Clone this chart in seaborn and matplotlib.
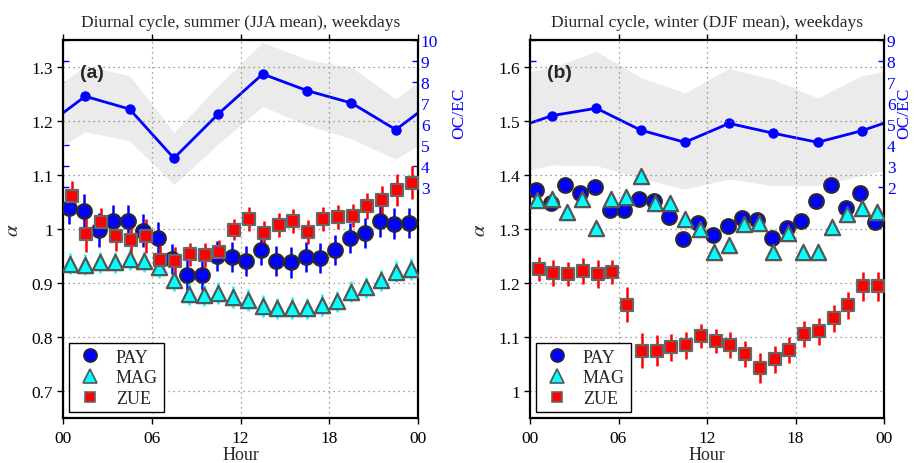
import numpy as np
import pandas as pd
import matplotlib
matplotlib.use("Agg")
import matplotlib.pyplot as plt
from matplotlib.lines import Line2D
import seaborn as sns

# ---- data -------------------------------------------------------------
hours = np.arange(24) + 0.5
stations = ["PAY", "MAG", "ZUE"]

# absorption exponent, summer weekdays
pay_sum = [1.038, 1.034, 0.998, 1.014, 1.014, 0.997, 0.983, 0.944, 0.915, 0.915, 0.950, 0.948,
           0.941, 0.961, 0.941, 0.938, 0.948, 0.946, 0.961, 0.983, 0.992, 1.014, 1.010, 1.011]
mag_sum = [0.936, 0.934, 0.938, 0.938, 0.945, 0.940, 0.929, 0.905, 0.880, 0.877, 0.882, 0.874,
           0.868, 0.857, 0.853, 0.854, 0.853, 0.859, 0.866, 0.884, 0.892, 0.905, 0.921, 0.926]
zue_sum = [1.062, 0.991, 1.013, 0.987, 0.980, 0.987, 0.943, 0.940, 0.953, 0.952, 0.958, 0.999,
           1.019, 0.992, 1.007, 1.015, 0.994, 1.018, 1.022, 1.025, 1.043, 1.053, 1.072, 1.086]
pay_sum_err = [0.028, 0.030, 0.032, 0.030, 0.030, 0.030, 0.030, 0.028, 0.028, 0.028, 0.028, 0.028,
               0.028, 0.028, 0.028, 0.028, 0.028, 0.028, 0.028, 0.028, 0.028, 0.028, 0.028, 0.028]
mag_sum_err = [0.020, 0.020, 0.020, 0.020, 0.020, 0.020, 0.020, 0.020, 0.020, 0.020, 0.020, 0.020,
               0.020, 0.020, 0.020, 0.020, 0.020, 0.020, 0.020, 0.020, 0.020, 0.020, 0.020, 0.020]
zue_sum_err = [0.026, 0.034, 0.025, 0.028, 0.028, 0.031, 0.026, 0.026, 0.022, 0.022, 0.022, 0.020,
               0.022, 0.022, 0.022, 0.022, 0.022, 0.022, 0.022, 0.022, 0.024, 0.026, 0.030, 0.030]

# absorption exponent, winter weekdays
pay_win = [1.373, 1.349, 1.381, 1.366, 1.378, 1.335, 1.335, 1.356, 1.351, 1.323, 1.281, 1.312,
           1.289, 1.305, 1.320, 1.317, 1.283, 1.302, 1.315, 1.351, 1.381, 1.338, 1.366, 1.313]
mag_win = [1.354, 1.355, 1.332, 1.356, 1.301, 1.355, 1.360, 1.398, 1.349, 1.349, 1.319, 1.300,
           1.257, 1.270, 1.309, 1.312, 1.257, 1.292, 1.257, 1.257, 1.303, 1.327, 1.338, 1.332]
zue_win = [1.226, 1.219, 1.217, 1.223, 1.217, 1.221, 1.160, 1.075, 1.075, 1.081, 1.085, 1.102,
           1.092, 1.085, 1.068, 1.042, 1.059, 1.076, 1.106, 1.111, 1.135, 1.159, 1.194, 1.194]
pay_win_err = [0.010] * 24
mag_win_err = [0.010] * 24
zue_win_err = [0.022, 0.024, 0.022, 0.024, 0.026, 0.022, 0.032, 0.032, 0.028, 0.025, 0.025, 0.022,
               0.022, 0.024, 0.024, 0.028, 0.025, 0.024, 0.024, 0.025, 0.025, 0.025, 0.027, 0.027]

# OC/EC ratio in 3-hour bins (mean with spread)
oc_hours = [1.5, 4.5, 7.5, 10.5, 13.5, 16.5, 19.5, 22.5]
ocec_sum = [7.32, 6.71, 4.37, 6.48, 8.38, 7.59, 7.00, 5.73]
ocec_sum_hi = [8.78, 8.30, 5.60, 7.83, 9.89, 9.06, 8.70, 7.19]
ocec_sum_lo = [5.63, 5.20, 3.11, 5.05, 6.84, 5.95, 5.29, 4.33]
ocec_win = [5.40, 5.75, 4.71, 4.13, 5.03, 4.56, 4.13, 4.68]
ocec_win_hi = [7.70, 8.46, 7.22, 6.48, 7.65, 7.11, 6.24, 7.30]
ocec_win_lo = [3.05, 3.02, 2.41, 1.90, 2.38, 2.06, 2.06, 2.54]

# ---- style ------------------------------------------------------------
sns.set_style("white")
plt.rcParams["font.family"] = ["Liberation Serif", "DejaVu Serif"]
plt.rcParams["mathtext.fontset"] = "stix"

styles = {
    "PAY": dict(marker="o", face="#0000ff", edge="#2a2a2a", bar="#0000ff", size=10.5, dx=-0.1),
    "MAG": dict(marker="^", face="#00ffff", edge="#555555", bar="#00ffff", size=11.0, dx=0.0),
    "ZUE": dict(marker="s", face="#ff0000", edge="#666666", bar="#ff0000", size=8.6, dx=0.08),
}


def wrap(x, v):
    """Repeat the cycle one step on either side so the line runs across midnight."""
    return [x[-1] - 24] + list(x) + [x[0] + 24], [v[-1]] + list(v) + [v[0]]


def panel(ax, series, errs, oc, oc_hi, oc_lo, ylim, yticks, oc_lim, oc_ticks, title, tag):
    ax2 = ax.twinx()
    ax.set_zorder(ax2.get_zorder() + 1)
    ax.patch.set_visible(False)

    # OC/EC band and mean on the right-hand axis
    xw, hi = wrap(oc_hours, oc_hi)
    _, lo = wrap(oc_hours, oc_lo)
    _, mid = wrap(oc_hours, oc)
    ax2.fill_between(xw, lo, hi, color="#ebebeb", linewidth=0)
    df_oc = pd.DataFrame({"hour": xw, "ocec": mid})
    sns.lineplot(data=df_oc, x="hour", y="ocec", ax=ax2, color="#0000ff", lw=2.0,
                 marker="o", markersize=7.5, markeredgewidth=0, sort=False)
    ax2.set_ylim(*oc_lim)
    ax2.set_yticks(oc_ticks)
    ax2.set_yticklabels([str(t) for t in oc_ticks])
    ax2.yaxis.set_ticks_position("both")
    ax2.tick_params(axis="y", direction="in", colors="#0000ff", length=4, width=1,
                    labelsize=12.5, pad=2, labelleft=False, labelright=True)
    ax2.set_ylabel("OC/EC", color="#0000ff", fontsize=12.5)
    ax2.set_xlabel("")
    for s in ax2.spines.values():
        s.set_visible(False)

    # station exponents with error bars
    for name, vals, err in zip(stations, series, errs):
        st = styles[name]
        x = hours + st["dx"]
        ax.errorbar(x, vals, yerr=err, fmt="none", ecolor=st["bar"], elinewidth=1.8,
                    capsize=0, zorder=2)
        df = pd.DataFrame({"hour": x, "alpha": vals})
        sns.scatterplot(data=df, x="hour", y="alpha", ax=ax, marker=st["marker"],
                        s=st["size"] ** 2, color=st["face"], edgecolor=st["edge"],
                        linewidth=1.6, zorder=3, legend=False)

    ax.set_xlim(0, 24)
    ax.set_ylim(*ylim)
    ax.set_xticks([0, 6, 12, 18, 24])
    ax.set_xticklabels(["00", "06", "12", "18", "00"])
    ax.set_yticks(yticks)
    ax.set_yticklabels([("%g" % t) for t in yticks])
    ax.grid(True, linestyle=(0, (1, 3)), color="#808080", linewidth=0.9)
    ax.xaxis.set_ticks_position("both")
    ax.tick_params(axis="both", direction="out", length=4, width=1, labelsize=12.5,
                   colors="black", pad=3)
    ax.tick_params(axis="x", pad=5)
    ax.set_xlabel("Hour", fontsize=13, labelpad=0)
    ax.set_ylabel(r"$\alpha$", fontsize=15, labelpad=6)
    ax.set_title(title, fontsize=12.5, pad=10)
    for s in ax.spines.values():
        s.set_visible(True)
        s.set_color("black")
        s.set_linewidth(1.6)

    ax.text(0.048, 0.915, tag, transform=ax.transAxes, fontsize=14, fontweight="bold",
            family="Liberation Sans", va="center", ha="left")

    handles = [Line2D([], [], linestyle="none", marker=styles[n]["marker"],
                      markerfacecolor=styles[n]["face"], markeredgecolor=styles[n]["edge"],
                      markeredgewidth=1.2, markersize=styles[n]["size"] * 0.9)
               for n in stations]
    leg = ax.legend(handles, stations, loc="lower left", bbox_to_anchor=(0.017, 0.015),
                    frameon=True, fancybox=False, edgecolor="black", fontsize=13,
                    framealpha=1, handletextpad=0.6, borderpad=0.3, labelspacing=0.2,
                    handlelength=1.7, borderaxespad=0)
    leg.get_frame().set_linewidth(1.0)
    leg.set_zorder(5)
    return ax2


fig = plt.figure(figsize=(9.14, 4.64), dpi=100)
ax_a = fig.add_axes([63 / 914, 45 / 464, 355 / 914, 378 / 464])
ax_b = fig.add_axes([530 / 914, 45 / 464, 354 / 914, 378 / 464])

a2 = panel(ax_a, [pay_sum, mag_sum, zue_sum], [pay_sum_err, mag_sum_err, zue_sum_err],
           ocec_sum, ocec_sum_hi, ocec_sum_lo, (0.65, 1.35),
           [0.7, 0.8, 0.9, 1.0, 1.1, 1.2, 1.3], (-8, 10), [3, 4, 5, 6, 7, 8, 9, 10],
           "Diurnal cycle, summer (JJA mean), weekdays", "(a)")
b2 = panel(ax_b, [pay_win, mag_win, zue_win], [pay_win_err, mag_win_err, zue_win_err],
           ocec_win, ocec_win_hi, ocec_win_lo, (0.95, 1.65),
           [1.0, 1.1, 1.2, 1.3, 1.4, 1.5, 1.6], (-9, 9), [2, 3, 4, 5, 6, 7, 8, 9],
           "Diurnal cycle, winter (DJF mean), weekdays", "(b)")
a2.yaxis.set_label_coords(1.095, 0.81)
b2.yaxis.set_label_coords(1.036, 0.81)

fig.savefig("out.png", dpi=100)
